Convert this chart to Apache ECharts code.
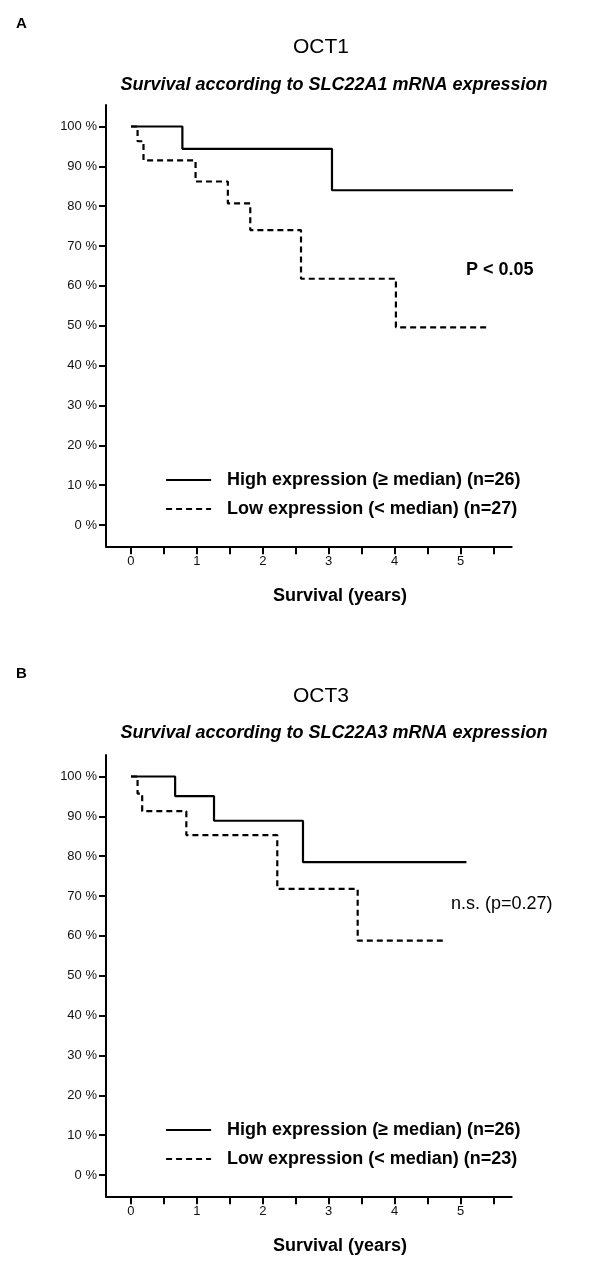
<!DOCTYPE html>
<html>
<head>
<meta charset="utf-8">
<script src="https://cdn.jsdelivr.net/npm/echarts@6/dist/echarts.min.js"></script>
<style>
html,body{margin:0;padding:0;background:#fff;}
#chart{width:600px;height:1271px;}
</style>
</head>
<body>
<div id="chart"></div>
<script>
// ---- Data ----
const xTickValues = [0, 0.5, 1, 1.5, 2, 2.5, 3, 3.5, 4, 4.5, 5, 5.5];
const xLabelValues = [0, 1, 2, 3, 4, 5];
const yTickValues = [0, 10, 20, 30, 40, 50, 60, 70, 80, 90, 100];

// Panel A: OCT1
const highA_t = [0, 0.78, 3.05, 5.82];
const highA_s = [100, 94.4, 84.0, 84.0];
const lowA_t  = [0, 0.10, 0.19, 0.98, 1.47, 1.81, 2.58, 4.02, 5.44];
const lowA_s  = [100, 96.3, 91.5, 86.2, 80.7, 74.0, 61.8, 49.6, 49.6];

// Panel B: OCT3
const highB_t = [0, 0.67, 1.26, 2.61, 5.09];
const highB_s = [100, 95.1, 88.9, 78.5, 78.5];
const lowB_t  = [0, 0.10, 0.17, 0.84, 2.22, 3.44, 4.79];
const lowB_s  = [100, 95.7, 91.3, 85.3, 71.8, 58.8, 58.8];

const nameHighA = 'High expression (\u2265 median) (n=26)';
const nameLowA  = 'Low expression (< median) (n=27)';
const nameHighB = 'High expression (\u2265 median) (n=26)';
const nameLowB  = 'Low expression (< median) (n=23)';

const titles = ['OCT1', 'OCT3'];
const subtitles = ['Survival according to SLC22A1 mRNA expression',
                   'Survival according to SLC22A3 mRNA expression'];
const panelLetters = ['A', 'B'];
const pTexts = ['P < 0.05', 'n.s. (p=0.27)'];
const xAxisTitle = 'Survival (years)';

// ---- Helpers ----
const FONT = '"Liberation Sans", Arial, Helvetica, sans-serif';
const zip = (t, s) => t.map((v, i) => [v, s[i]]);

const OFF = 650; // vertical offset of panel B
const gridTop = 105, gridH = 441.3;

function xAxisDef(gi) {
  return {
    type: 'value', gridIndex: gi, min: -0.379, max: 5.777,
    axisLine: {show: true, onZero: false, lineStyle: {color: '#000', width: 2}},
    axisTick: {show: true, inside: false, length: 8, customValues: xTickValues,
               lineStyle: {color: '#000', width: 2}},
    axisLabel: {show: true, customValues: xLabelValues, margin: 9,
                color: '#111', fontSize: 13, fontFamily: FONT,
                formatter: v => String(Math.round(v))},
    splitLine: {show: false}
  };
}
function yAxisDef(gi) {
  return {
    type: 'value', gridIndex: gi, min: -5.35, max: 105.4,
    axisLine: {show: true, onZero: false, lineStyle: {color: '#000', width: 2}},
    axisTick: {show: true, inside: false, length: 7, customValues: yTickValues,
               lineStyle: {color: '#000', width: 2}},
    axisLabel: {show: true, customValues: yTickValues, margin: 9,
                color: '#111', fontSize: 13, fontFamily: FONT,
                formatter: v => Math.round(v) + ' %'},
    splitLine: {show: false}
  };
}
function lineSeries(name, gi, data, dashed) {
  return {
    type: 'line', name: name, xAxisIndex: gi, yAxisIndex: gi,
    data: data, step: 'end', symbol: 'none', showSymbol: false, clip: false,
    lineStyle: {color: '#000', width: 2.2, type: dashed ? [6, 4] : 'solid'},
    itemStyle: {color: '#000'},
    emphasis: {disabled: true}, silent: true, animation: false
  };
}
function legendDef(top, names) {
  return {
    show: true, orient: 'vertical', left: 160, top: top,
    itemWidth: 45, itemHeight: 14, itemGap: 11,
    data: names, selectedMode: false,
    itemStyle: {opacity: 0, borderWidth: 0},
    textStyle: {color: '#000', fontSize: 18, fontWeight: 'bold', fontFamily: FONT,
                lineHeight: 18, padding: [0, 0, 0, 11]},
    lineStyle: {width: 2.2}
  };
}
function txt(x, y, text, size, weight, style, align) {
  return {type: 'text', x: x, y: y, silent: true,
    style: {text: text, fill: '#000', font: (style || 'normal') + ' ' + (weight || 'normal') + ' ' + size + 'px ' + FONT,
            align: align || 'center', verticalAlign: 'middle'}};
}

const graphics = [];
[0, 1].forEach(i => {
  const o = i * OFF;
  graphics.push(txt(16, 24 + o, panelLetters[i], 15, 'bold', 'normal', 'left'));
  graphics.push(txt(321, 47 + o - (i ? 1 : 0), titles[i], 21, 'normal'));
  graphics.push(txt(334, 85 + o - (i ? 2 : 0), subtitles[i], 18, 'bold', 'italic'));
  graphics.push(txt(340, 596 + o, xAxisTitle, 18, 'bold'));
});
graphics.push(txt(466, 270, pTexts[0], 18, 'bold', 'normal', 'left'));
graphics.push(txt(451, 904, pTexts[1], 18, 'normal', 'normal', 'left'));

const option = {
  animation: false,
  backgroundColor: '#fff',
  grid: [
    {left: 106, top: gridTop, width: 405.7, height: gridH, containLabel: false},
    {left: 106, top: gridTop + OFF, width: 405.7, height: gridH, containLabel: false}
  ],
  xAxis: [xAxisDef(0), xAxisDef(1)],
  yAxis: [yAxisDef(0), yAxisDef(1)],
  legend: [
    legendDef(466, [nameHighA, nameLowA]),
    legendDef(466 + OFF, [nameHighB, nameLowB])
  ],
  series: [
    lineSeries(nameHighA, 0, zip(highA_t, highA_s), false),
    lineSeries(nameLowA, 0, zip(lowA_t, lowA_s), true),
    lineSeries(nameHighB, 1, zip(highB_t, highB_s), false),
    lineSeries(nameLowB, 1, zip(lowB_t, lowB_s), true)
  ],
  graphic: graphics,
  tooltip: {show: false}
};

const chart = echarts.init(document.getElementById('chart'), null, {renderer: 'canvas'});
chart.setOption(option);
</script>
</body>
</html>
